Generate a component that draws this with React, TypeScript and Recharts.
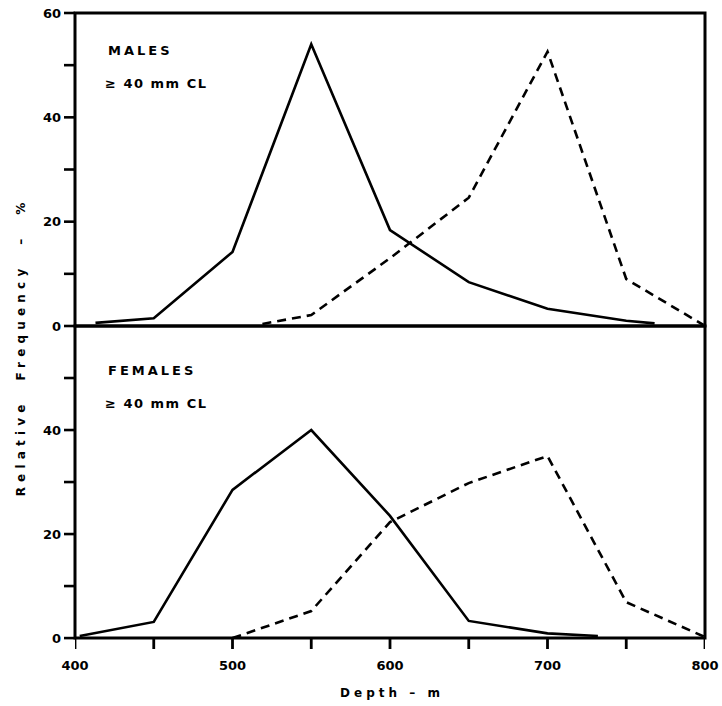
import React from 'react';
import { LineChart, Line, XAxis, YAxis, ReferenceArea, ReferenceLine } from 'recharts';

// Males >= 40 mm CL
const maleSolidDepth = [413, 450, 500, 550, 600, 650, 700, 750, 768];
const maleSolidFreq = [0.6, 1.5, 14.2, 54, 18.4, 8.4, 3.3, 1.0, 0.5];
const maleDashedDepth = [519, 550, 600, 650, 700, 750, 799];
const maleDashedFreq = [0.4, 2.1, 13, 24.6, 52.6, 9.0, 0.2];

// Females >= 40 mm CL
const femaleSolidDepth = [403, 450, 500, 550, 600, 650, 700, 732];
const femaleSolidFreq = [0.4, 3.1, 28.5, 40, 23.5, 3.3, 0.9, 0.4];
const femaleDashedDepth = [500, 550, 600, 650, 700, 750, 800];
const femaleDashedFreq = [0, 5.2, 22.3, 29.8, 35, 6.9, 0.2];

const xTicks = [400, 450, 500, 550, 600, 650, 700, 750, 800];
const xLabels = [400, 500, 600, 700, 800];
const yTicksTop = [0, 10, 20, 30, 40, 50, 60];
const yTicksBottom = [0, 10, 20, 30, 40, 50];
const yLabels = [0, 20, 40, 60];

const zip = (d: number[], f: number[]) => d.map((depth, i) => ({ depth, freq: f[i] }));

const FONT = '"DejaVu Sans", "Liberation Sans", Arial, sans-serif';
const LW = 2.6;
const DASH = '9 6';
// tick mark sizes expressed in axis units
const Y_TICK_LEN = 7; // metres of depth (~11 px)
const X_TICK_LEN = 2.1; // percent (~11 px)

const textBase: React.CSSProperties = {
  position: 'absolute',
  fontFamily: FONT,
  fontWeight: 700,
  color: '#000',
  whiteSpace: 'pre',
  lineHeight: 1,
};

function YTick(props: any) {
  const { x, y, payload } = props;
  const v = payload.value;
  if (!yLabels.includes(v)) return <g />;
  return (
    <text x={Number(x) - 14} y={Number(y)} dy="0.36em" textAnchor="end" fill="#000" fontSize={13} fontWeight={700} fontFamily={FONT}>
      {v}
    </text>
  );
}

function XTick(props: any) {
  const { x, y, payload } = props;
  const v = payload.value;
  if (!xLabels.includes(v)) return <g />;
  return (
    <text x={Number(x)} y={Number(y) + 16} dy="0.36em" textAnchor="middle" fill="#000" fontSize={13} fontWeight={700} fontFamily={FONT}>
      {v}
    </text>
  );
}

function Panel({ solid, dashed, yTicks, showX }: { solid: any[]; dashed: any[]; yTicks: number[]; showX: boolean }) {
  // the lower panel keeps room inside its plot area for the downward x tick marks
  const yMin = showX ? -X_TICK_LEN : 0;
  const els: any[] = [
    <XAxis
      key="xb"
      xAxisId="b"
      type="number"
      dataKey="depth"
      domain={[400, 800]}
      ticks={xTicks}
      interval={0}
      tick={showX ? <XTick /> : false}
      tickSize={0}
      tickMargin={0}
      axisLine={false}
      tickLine={false}
      height={showX ? 30 : 0}
      allowDataOverflow
    />,
    <YAxis
      key="yl"
      yAxisId="l"
      type="number"
      domain={[yMin, 60]}
      ticks={yTicks}
      interval={0}
      tick={<YTick />}
      tickSize={0}
      tickMargin={0}
      axisLine={false}
      tickLine={false}
      width={75}
      allowDataOverflow
    />,
    <ReferenceArea
      key="frame"
      xAxisId="b"
      yAxisId="l"
      x1={400}
      x2={800}
      y1={0}
      y2={60}
      fill="none"
      fillOpacity={0}
      stroke="#000"
      strokeWidth={3}
      strokeOpacity={1}
      ifOverflow="visible"
    />,
  ];
  yTicks.forEach((v) => {
    els.push(
      <ReferenceLine
        key={`yt${v}`}
        xAxisId="b"
        yAxisId="l"
        segment={[
          { x: 400 - Y_TICK_LEN, y: v },
          { x: 400, y: v },
        ]}
        stroke="#000"
        strokeWidth={2.6}
        ifOverflow="visible"
      />
    );
  });
  if (showX) {
    xTicks.forEach((v) => {
      els.push(
        <Line
          key={`xt${v}`}
          xAxisId="b"
          yAxisId="l"
          data={[
            { depth: v, freq: 0 },
            { depth: v, freq: -X_TICK_LEN },
          ]}
          dataKey="freq"
          type="linear"
          stroke="#000"
          strokeWidth={2.8}
          dot={false}
          activeDot={false}
          legendType="none"
          isAnimationActive={false}
        />
      );
    });
  }
  els.push(
    <Line key="s" xAxisId="b" yAxisId="l" data={solid} dataKey="freq" type="linear" stroke="#000" strokeWidth={LW} dot={false} isAnimationActive={false} />,
    <Line key="d" xAxisId="b" yAxisId="l" data={dashed} dataKey="freq" type="linear" stroke="#000" strokeWidth={LW} strokeDasharray={DASH} dot={false} isAnimationActive={false} />
  );
  return els;
}

export default function App() {
  const maleSolid = zip(maleSolidDepth, maleSolidFreq);
  const maleDashed = zip(maleDashedDepth, maleDashedFreq);
  const femaleSolid = zip(femaleSolidDepth, femaleSolidFreq);
  const femaleDashed = zip(femaleDashedDepth, femaleDashedFreq);

  return (
    <div style={{ position: 'absolute', left: 0, top: 0, width: 722, height: 706, background: '#fff', overflow: 'hidden' }}>
      <div style={{ position: 'absolute', left: 0, top: 316 }}>
        <LineChart width={722} height={390} margin={{ top: 10, right: 17, bottom: 27, left: 0 }}>
          {Panel({ solid: femaleSolid, dashed: femaleDashed, yTicks: yTicksBottom, showX: true })}
        </LineChart>
      </div>
      <div style={{ position: 'absolute', left: 0, top: 0 }}>
        <LineChart width={722} height={342} margin={{ top: 13, right: 17, bottom: 16, left: 0 }}>
          {Panel({ solid: maleSolid, dashed: maleDashed, yTicks: yTicksTop, showX: false })}
        </LineChart>
      </div>

      <div style={{ ...textBase, left: 108, top: 44, fontSize: 13, letterSpacing: 3 }}>MALES</div>
      <div style={{ ...textBase, left: 105, top: 77, fontSize: 13, letterSpacing: 1.5 }}>≥ 40 mm CL</div>
      <div style={{ ...textBase, left: 108, top: 364, fontSize: 13, letterSpacing: 3 }}>FEMALES</div>
      <div style={{ ...textBase, left: 105, top: 397, fontSize: 13, letterSpacing: 1.5 }}>≥ 40 mm CL</div>

      <div style={{ ...textBase, left: 392, top: 693, fontSize: 12, letterSpacing: 4, transform: 'translate(-50%, -50%)' }}>Depth – m</div>
      <div
        style={{
          ...textBase,
          left: 21,
          top: 347,
          fontSize: 12,
          letterSpacing: 5.2,
          transform: 'translate(-50%, -50%) rotate(-90deg)',
        }}
      >
        Relative  Frequency  –  %
      </div>
    </div>
  );
}
